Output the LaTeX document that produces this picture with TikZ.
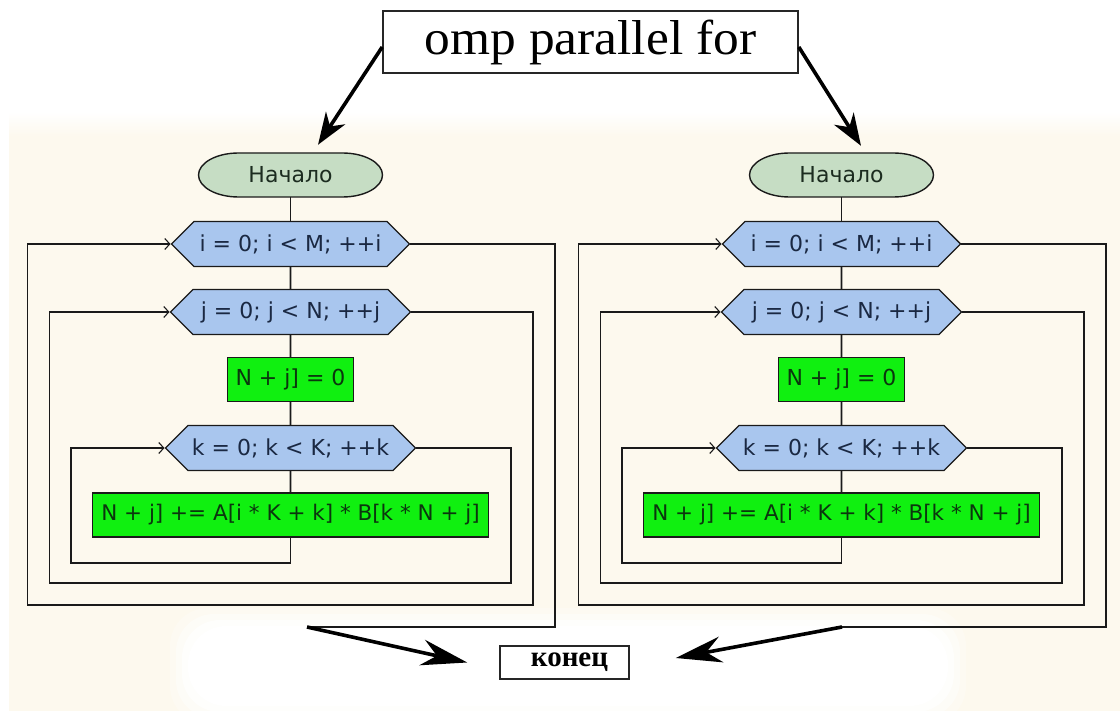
\documentclass[tikz,border=0pt]{standalone}
\usepackage{fontspec}
\setmainfont{Liberation Serif}
\newfontfamily\flowfont{DejaVu Sans}
\usetikzlibrary{shapes.symbols,arrows.meta,calc}

\definecolor{paper}{HTML}{FDF9EE}
\definecolor{startfill}{HTML}{C6DDC4}
\definecolor{loopfill}{HTML}{A9C6EE}
\definecolor{actfill}{HTML}{10F010}
\definecolor{edge}{HTML}{1A1A1A}
\definecolor{loopink}{HTML}{1A2842}
\definecolor{actink}{HTML}{0B360E}
\definecolor{startink}{HTML}{1C2C20}

\begin{document}
\begin{tikzpicture}[x=1pt,y=1pt,
  flowtext/.style={font=\flowfont\fontsize{22}{25}\selectfont},
  wire/.style={draw=edge, line width=1.6pt},
  back/.style={wire, -{Straight Barb[length=5pt,width=11pt,line width=1.1pt]}},
  startbox/.style={rectangle, minimum width=192, minimum height=48, inner sep=0pt,
    flowtext, text=startink,
    path picture={\draw[wire, line width=1.4pt, fill=startfill]
      ($(path picture bounding box.center)+(-52,22)$) -- ++(104,0)
      arc[start angle=90,end angle=-90,x radius=40,y radius=22] -- ++(-104,0)
      arc[start angle=270,end angle=90,x radius=40,y radius=22] -- cycle;}},
  loophead/.style={signal, signal to=west and east, signal pointer angle=90,
    draw=edge, line width=1.4pt, fill=loopfill, text=loopink,
    minimum height=45, inner sep=0pt, flowtext},
  action/.style={rectangle, draw=edge, line width=1.4pt, fill=actfill,
    text=actink, minimum height=44, inner sep=0pt, flowtext},
  caption/.style={rectangle, draw=black!85, line width=1.6pt, fill=white, inner sep=0pt},
  toparrow/.style={line width=3.6pt, -{Stealth[length=32pt,width=23pt,inset=10pt]}},
  endarrow/.style={line width=3.6pt, -{Stealth[length=46pt,width=26pt,inset=15pt]}}
]
\useasboundingbox (0,0) rectangle (1120,-711);

% paper backdrop
\fill[white] (0,0) rectangle (1120,-711);
\shade[top color=white, bottom color=paper] (9,-112) rectangle (1120,-136);
\fill[paper] (9,-136) rectangle (1120,-711);
\foreach \r/\o in {18/0.25,12/0.45,6/0.7,0/1}
  \fill[white, opacity=\o, rounded corners=38]
    (188-\r,-626+\r) rectangle (948+\r,-706-\r);

% two identical flowcharts
\foreach \c/\sx/\ex in {L/0/307, R/551/291}{
\begin{scope}[xshift=\sx]
  \node[startbox] (start\c) at (290.5,-175) {Начало};
  \node[loophead, minimum width=238] (fi\c) at (290.5,-244) {i = 0; i < M; ++i};
  \node[loophead, minimum width=240] (fj\c) at (290.5,-312) {j = 0; j < N; ++j};
  \node[action, minimum width=126] (zero\c) at (290.5,-379.5) {N + j] = 0};
  \node[loophead, minimum width=250] (fk\c) at (290.5,-448) {k = 0; k < K; ++k};
  \node[action, minimum width=396, font=\flowfont\fontsize{21.5}{25}\selectfont]
    (acc\c) at (290.5,-515) {N + j] += A[i * K + k] * B[k * N + j]};

  \draw[wire] ([yshift=2]start\c.south) -- (fi\c.north);
  \draw[wire] (fi\c) -- (fj\c);
  \draw[wire] (fj\c) -- (zero\c);
  \draw[wire] (zero\c) -- (fk\c);
  \draw[wire] (fk\c) -- (acc\c);

  % loop returns and exits
  \draw[back] (acc\c.south) -- ++(0,-25) -| (71,-448) -- (fk\c.west);
  \draw[back] (fk\c.east) -| (511,-583) -| (49.5,-312) -- (fj\c.west);
  \draw[back] (fj\c.east) -| (533,-605) -| (27.5,-244) -- (fi\c.west);
  \draw[wire] (fi\c.east) -| (555,-627) -- (\ex,-627) coordinate (out\c);
\end{scope}
}

% header and end labels
\node[caption, minimum width=415, minimum height=62] (omp) at (590.5,-42)
  {\fontsize{49}{52}\selectfont\scalebox{1.05}[1]{omp parallel for}};
\node[caption, minimum width=129, minimum height=33] (end) at (564.5,-662.5)
  {\hspace*{10pt}\bfseries\fontsize{29}{30}\selectfont конец};

\draw[toparrow] ([yshift=-5]omp.west) -- ([shift={(27.5,6)}]startL.north);
\draw[toparrow] ([yshift=-5]omp.east) -- ([shift={(19.5,5)}]startR.north);
\draw[endarrow] (outL) -- ([xshift=-32]end.west);
\draw[endarrow] (outR) -- ([shift={(46,4.5)}]end.east);
\end{tikzpicture}
\end{document}
